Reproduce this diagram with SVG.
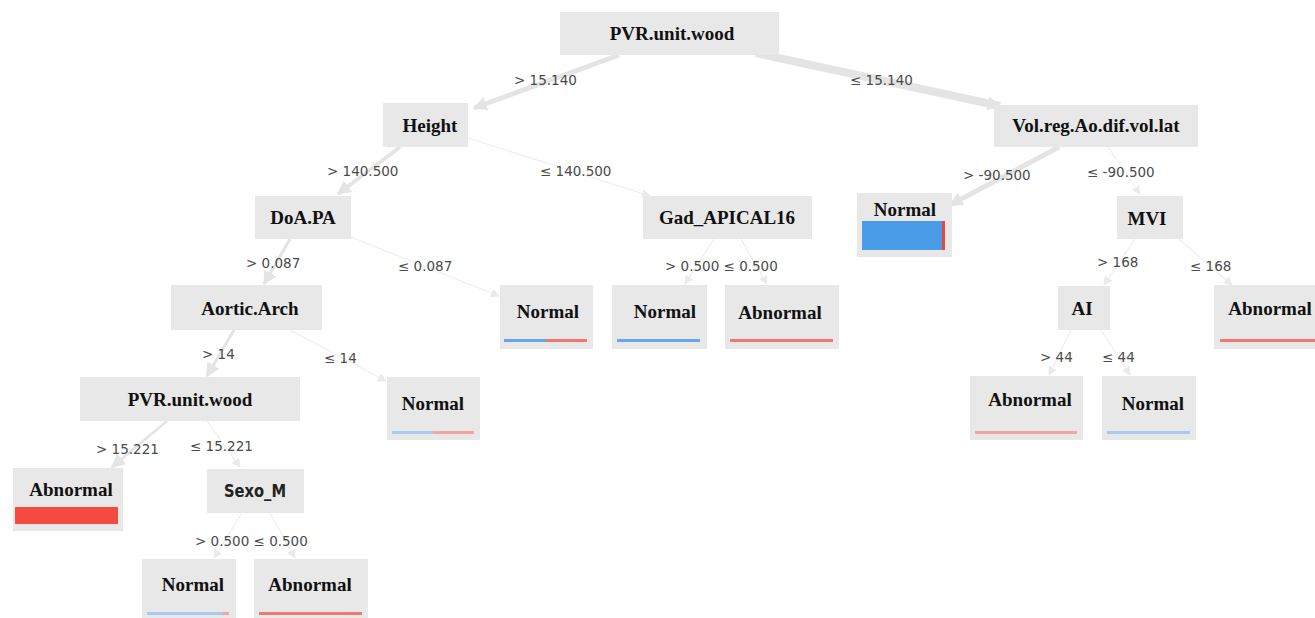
<svg xmlns="http://www.w3.org/2000/svg" width="1315" height="618" viewBox="0 0 1315 618">
<style>
.box{fill:#e8e8e8}
.nt{font-family:"Liberation Serif","Times New Roman",serif;font-weight:bold;font-size:19px;fill:#111;text-anchor:middle}
.st{font-family:"DejaVu Sans",sans-serif;font-weight:bold;font-size:17px;fill:#222;text-anchor:middle}
.lb{font-family:"DejaVu Sans",sans-serif;font-size:13.5px;fill:#4a4a4a}
.e{fill:none;stroke:#e4e4e4}
.et{fill:none;stroke:#eeeeee;stroke-width:1.2}
.blue{fill:#6aa6ee}
.red{fill:#f07a72}
.lblue{fill:#a9c9ef}
.lred{fill:#f3a6a0}
</style>
<defs>
<marker id="ab" viewBox="0 0 10 10" refX="9" refY="5" markerWidth="14" markerHeight="14" markerUnits="userSpaceOnUse" orient="auto"><path d="M0,0 L10,5 L0,10 z" fill="#e4e4e4"/></marker>
<marker id="as" viewBox="0 0 10 10" refX="9" refY="5" markerWidth="9" markerHeight="9" markerUnits="userSpaceOnUse" orient="auto"><path d="M0,0 L10,5 L0,10 z" fill="#eaeaea"/></marker>
</defs>
<g id="connectors">
<line class="e" x1="619" y1="55" x2="474" y2="108" stroke-width="5" marker-end="url(#ab)"/>
<line class="e" x1="756" y1="53" x2="1000" y2="106" stroke-width="8" marker-end="url(#ab)"/>
<line class="e" x1="400" y1="147" x2="338" y2="194" stroke-width="3.5" marker-end="url(#ab)"/>
<line class="et" x1="468" y1="138" x2="650" y2="196" marker-end="url(#as)"/>
<line class="e" x1="1059" y1="147" x2="950" y2="205" stroke-width="5" marker-end="url(#ab)"/>
<line class="et" x1="1108" y1="147" x2="1140" y2="194" marker-end="url(#as)"/>
<line class="e" x1="290" y1="239" x2="264" y2="284" stroke-width="3" marker-end="url(#ab)"/>
<line class="et" x1="351" y1="237" x2="499" y2="296" marker-end="url(#as)"/>
<line class="e" x1="234" y1="330" x2="207" y2="376" stroke-width="3" marker-end="url(#ab)"/>
<line class="et" x1="290" y1="330" x2="386" y2="381" marker-end="url(#as)"/>
<line class="e" x1="167" y1="421" x2="112" y2="467" stroke-width="2.5" marker-end="url(#ab)"/>
<line class="et" x1="207" y1="421" x2="240" y2="467" stroke-width="1.6" marker-end="url(#as)"/>
<line class="et" x1="242" y1="513" x2="214" y2="558" marker-end="url(#as)"/>
<line class="et" x1="270" y1="513" x2="295" y2="558" marker-end="url(#as)"/>
<line class="et" x1="714" y1="239" x2="685" y2="284" marker-end="url(#as)"/>
<line class="et" x1="741" y1="239" x2="767" y2="284" marker-end="url(#as)"/>
<line class="et" x1="1135" y1="239" x2="1104" y2="285" marker-end="url(#as)"/>
<line class="et" x1="1179" y1="239" x2="1232" y2="285" marker-end="url(#as)"/>
<line class="et" x1="1071" y1="330" x2="1049" y2="375" marker-end="url(#as)"/>
<line class="et" x1="1101" y1="330" x2="1130" y2="375" marker-end="url(#as)"/>
<text class="lb" x="514" y="85">&gt; 15.140</text>
<text class="lb" x="850" y="85">≤ 15.140</text>
<text class="lb" x="327" y="176">&gt; 140.500</text>
<text class="lb" x="540" y="176">≤ 140.500</text>
<text class="lb" x="963" y="180">&gt; -90.500</text>
<text class="lb" x="1087" y="177">≤ -90.500</text>
<text class="lb" x="246" y="268">&gt; 0.087</text>
<text class="lb" x="398" y="271">≤ 0.087</text>
<text class="lb" x="665" y="271">&gt; 0.500 ≤ 0.500</text>
<text class="lb" x="1097" y="267">&gt; 168</text>
<text class="lb" x="1190" y="271">≤ 168</text>
<text class="lb" x="202" y="359">&gt; 14</text>
<text class="lb" x="324" y="363">≤ 14</text>
<text class="lb" x="1040" y="362">&gt; 44</text>
<text class="lb" x="1102" y="362">≤ 44</text>
<text class="lb" x="96" y="454">&gt; 15.221</text>
<text class="lb" x="190" y="451">≤ 15.221</text>
<text class="lb" x="195" y="546">&gt; 0.500 ≤ 0.500</text>
</g>
<g id="n-root"><rect class="box" x="560" y="12" width="219" height="43"/><text class="nt" x="672" y="40">PVR.unit.wood</text></g>
<g id="n-height"><rect class="box" x="383" y="103" width="85" height="44"/><text class="nt" x="430" y="132">Height</text></g>
<g id="n-vol"><rect class="box" x="994" y="105" width="204" height="42"/><text class="nt" x="1096" y="132">Vol.reg.Ao.dif.vol.lat</text></g>
<g id="n-doa"><rect class="box" x="255" y="196" width="96" height="43"/><text class="nt" x="303" y="224">DoA.PA</text></g>
<g id="n-gad"><rect class="box" x="643" y="196" width="169" height="43"/><text class="nt" x="727" y="224">Gad_APICAL16</text></g>
<g id="n-normal-vol"><rect class="box" x="857" y="193" width="95" height="64"/><text class="nt" x="905" y="216">Normal</text><rect x="862" y="221" width="81" height="29" fill="#4a9be8"/><rect x="942" y="221" width="3" height="29" fill="#e8473d"/></g>
<g id="n-mvi"><rect class="box" x="1117" y="196" width="66" height="43"/><text class="nt" x="1147" y="225">MVI</text></g>
<g id="n-aortic"><rect class="box" x="171" y="285" width="151" height="45"/><text class="nt" x="250" y="315">Aortic.Arch</text></g>
<g id="n-normal-doa"><rect class="box" x="500" y="285" width="93" height="64"/><text class="nt" x="548" y="318">Normal</text><rect class="blue" x="504" y="339" width="42" height="3"/><rect class="red" x="546" y="339" width="41" height="3"/></g>
<g id="n-normal-gad"><rect class="box" x="612" y="285" width="95" height="64"/><text class="nt" x="665" y="318">Normal</text><rect class="blue" x="617" y="339" width="83" height="3"/></g>
<g id="n-abn-gad"><rect class="box" x="725" y="285" width="114" height="64"/><text class="nt" x="780" y="319">Abnormal</text><rect class="red" x="730" y="339" width="103" height="3"/></g>
<g id="n-ai"><rect class="box" x="1058" y="286" width="52" height="44"/><text class="nt" x="1082" y="315">AI</text></g>
<g id="n-abn-mvi"><rect class="box" x="1214" y="285" width="101" height="64"/><text class="nt" x="1270" y="315">Abnormal</text><rect class="red" x="1220" y="339" width="95" height="3"/></g>
<g id="n-pvr2"><rect class="box" x="80" y="377" width="220" height="44"/><text class="nt" x="190" y="406">PVR.unit.wood</text></g>
<g id="n-normal-aortic"><rect class="box" x="387" y="377" width="93" height="63"/><text class="nt" x="433" y="410">Normal</text><rect class="lblue" x="392" y="431" width="41" height="3"/><rect class="lred" x="433" y="431" width="41" height="3"/></g>
<g id="n-abn-ai"><rect class="box" x="970" y="376" width="113" height="64"/><text class="nt" x="1030" y="406">Abnormal</text><rect class="lred" x="975" y="431" width="102" height="3"/></g>
<g id="n-normal-ai"><rect class="box" x="1102" y="376" width="94" height="64"/><text class="nt" x="1153" y="410">Normal</text><rect class="lblue" x="1107" y="431" width="83" height="3"/></g>
<g id="n-abn-pvr"><rect class="box" x="13" y="468" width="110" height="63"/><text class="nt" x="71" y="496">Abnormal</text><rect x="15" y="507" width="103" height="17" fill="#f44a3f"/></g>
<g id="n-sexo"><rect class="box" x="207" y="469" width="97" height="44"/><text class="st" x="255" y="497" textLength="62" lengthAdjust="spacingAndGlyphs">Sexo_M</text></g>
<g id="n-normal-sexo"><rect class="box" x="142" y="559" width="94" height="59"/><text class="nt" x="193" y="591">Normal</text><rect class="lblue" x="147" y="612" width="76" height="3"/><rect class="lred" x="223" y="612" width="6" height="3"/></g>
<g id="n-abn-sexo"><rect class="box" x="254" y="559" width="114" height="59"/><text class="nt" x="310" y="591">Abnormal</text><rect class="red" x="259" y="612" width="103" height="3"/></g>
</svg>
